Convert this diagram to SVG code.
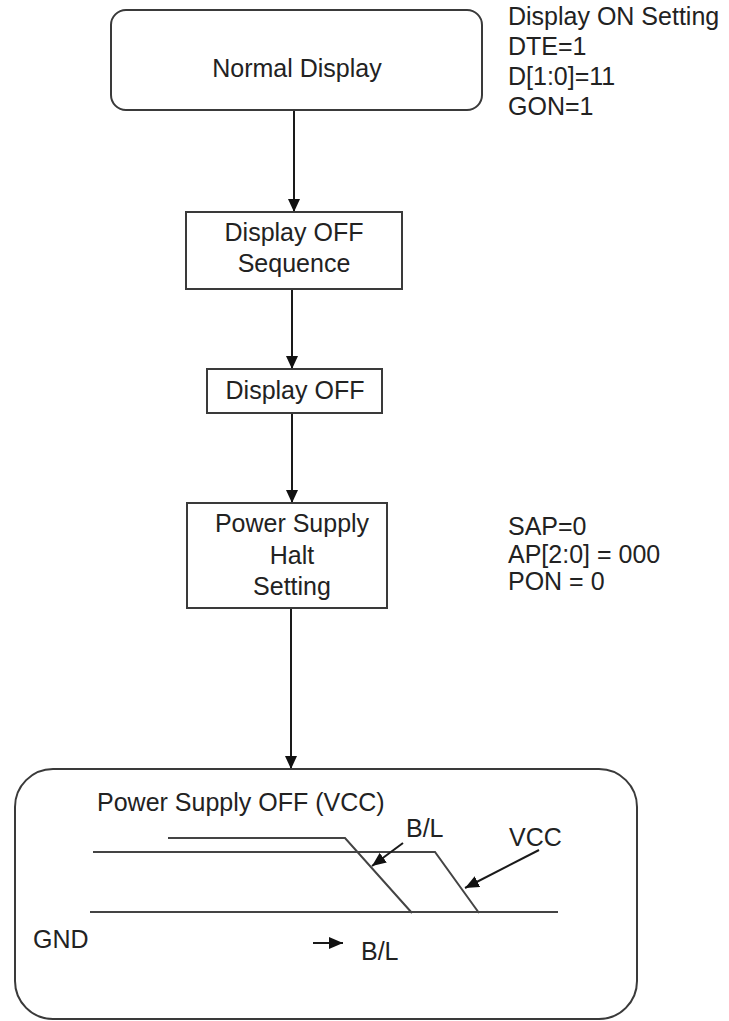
<svg xmlns="http://www.w3.org/2000/svg" width="729" height="1021" viewBox="0 0 729 1021">
<style>
text{font-family:"Liberation Sans",Arial,sans-serif;font-size:25px;fill:#222}
.c{text-anchor:middle}
.box{fill:#fff;stroke:#3a3a3a;stroke-width:2}
.ln{stroke:#1a1a1a;stroke-width:2;fill:none}
.wv{stroke:#444;stroke-width:2;fill:none}
</style>
<defs>
<marker id="ah" markerUnits="userSpaceOnUse" markerWidth="14" markerHeight="12" refX="13" refY="6" orient="auto">
<path d="M0,0 L13,6 L0,12 z" fill="#111"/>
</marker>
<marker id="sh" markerUnits="userSpaceOnUse" markerWidth="15" markerHeight="12" refX="14" refY="6" orient="auto">
<path d="M0,0 L14,6 L0,12 z" fill="#111"/>
</marker>
</defs>
<rect width="729" height="1021" fill="#fff"/>
<g id="connectors" class="ln">
<line x1="294" y1="110" x2="294" y2="212" marker-end="url(#ah)"/>
<line x1="292" y1="289" x2="292" y2="369" marker-end="url(#ah)"/>
<line x1="292" y1="413" x2="292" y2="503" marker-end="url(#ah)"/>
<line x1="291" y1="608" x2="291" y2="769" marker-end="url(#ah)"/>
</g>
<g id="normal-display">
<rect class="box" x="111" y="10" width="371" height="100" rx="15"/>
<text class="c" x="297" y="77">Normal Display</text>
</g>
<g id="display-on-note">
<text x="508" y="25">Display ON Setting</text>
<text x="508" y="55">DTE=1</text>
<text x="508" y="85">D[1:0]=11</text>
<text x="508" y="115">GON=1</text>
</g>
<g id="display-off-sequence">
<rect class="box" x="186" y="212" width="216" height="77"/>
<text class="c" x="294" y="241">Display OFF</text>
<text class="c" x="294" y="272">Sequence</text>
</g>
<g id="display-off">
<rect class="box" x="207" y="369" width="175" height="44"/>
<text class="c" x="295" y="399">Display OFF</text>
</g>
<g id="power-supply-halt">
<rect class="box" x="187" y="503" width="200" height="105"/>
<text class="c" x="292" y="532">Power Supply</text>
<text class="c" x="292" y="564">Halt</text>
<text class="c" x="292" y="595">Setting</text>
</g>
<g id="halt-note">
<text x="508" y="535">SAP=0</text>
<text x="508" y="563">AP[2:0] = 000</text>
<text x="508" y="590">PON = 0</text>
</g>
<g id="power-supply-off">
<rect class="box" x="15" y="769" width="622" height="250" rx="38"/>
<text x="97" y="811">Power Supply OFF (VCC)</text>
<polyline class="wv" points="168,838 345,838 412,913"/>
<polyline class="wv" points="93,852 435,852 479,913"/>
<line class="wv" x1="90" y1="912" x2="558" y2="912"/>
<text x="406" y="837">B/L</text>
<line class="ln" x1="403" y1="843" x2="372" y2="866" marker-end="url(#sh)"/>
<text x="509" y="846">VCC</text>
<line class="ln" x1="539" y1="850" x2="465" y2="888" marker-end="url(#sh)"/>
<text x="33" y="948">GND</text>
<line class="ln" x1="313" y1="943" x2="343" y2="943" marker-end="url(#sh)"/>
<text x="361" y="960">B/L</text>
</g>
</svg>
